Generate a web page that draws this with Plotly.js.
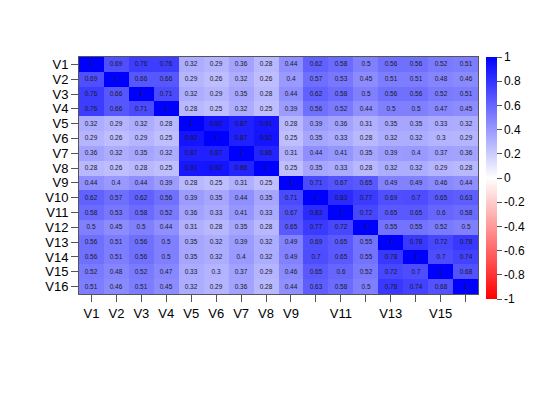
<!DOCTYPE html>
<html><head><meta charset="utf-8">
<script src="https://cdn.plot.ly/plotly-3.0.1.min.js"></script>
<style>body{margin:0;background:#fff}#c{width:540px;height:400px}</style>
</head><body><div id="c"></div>
<script>
const vars = ["V1","V2","V3","V4","V5","V6","V7","V8","V9","V10","V11","V12","V13","V14","V15","V16"];
const xTickText = ["V1","V2","V3","V4","V5","V6","V7","V8","V9","","V11","","V13","","V15",""];
const r1  = [1,.69,.76,.76,.32,.29,.36,.28,.44,.62,.58,.5,.56,.56,.52,.51];
const r2  = [.69,1,.66,.66,.29,.26,.32,.26,.4,.57,.53,.45,.51,.51,.48,.46];
const r3  = [.76,.66,1,.71,.32,.29,.35,.28,.44,.62,.58,.5,.56,.56,.52,.51];
const r4  = [.76,.66,.71,1,.28,.25,.32,.25,.39,.56,.52,.44,.5,.5,.47,.45];
const r5  = [.32,.29,.32,.28,1,.92,.87,.91,.28,.39,.36,.31,.35,.35,.33,.32];
const r6  = [.29,.26,.29,.25,.92,1,.87,.92,.25,.35,.33,.28,.32,.32,.3,.29];
const r7  = [.36,.32,.35,.32,.87,.87,1,.86,.31,.44,.41,.35,.39,.4,.37,.36];
const r8  = [.28,.26,.28,.25,.91,.92,.86,1,.25,.35,.33,.28,.32,.32,.29,.28];
const r9  = [.44,.4,.44,.39,.28,.25,.31,.25,1,.71,.67,.65,.49,.49,.46,.44];
const r10 = [.62,.57,.62,.56,.39,.35,.44,.35,.71,1,.83,.77,.69,.7,.65,.63];
const r11 = [.58,.53,.58,.52,.36,.33,.41,.33,.67,.83,1,.72,.65,.65,.6,.58];
const r12 = [.5,.45,.5,.44,.31,.28,.35,.28,.65,.77,.72,1,.55,.55,.52,.5];
const r13 = [.56,.51,.56,.5,.35,.32,.39,.32,.49,.69,.65,.55,1,.78,.72,.78];
const r14 = [.56,.51,.56,.5,.35,.32,.4,.32,.49,.7,.65,.55,.78,1,.7,.74];
const r15 = [.52,.48,.52,.47,.33,.3,.37,.29,.46,.65,.6,.52,.72,.7,1,.68];
const r16 = [.51,.46,.51,.45,.32,.29,.36,.28,.44,.63,.58,.5,.78,.74,.68,1];
const z = [r1,r2,r3,r4,r5,r6,r7,r8,r9,r10,r11,r12,r13,r14,r15,r16];
const txt = z.map(r => r.map(v => String(v)));

const trace = {
  type: 'heatmap', x: vars, y: vars, z: z,
  text: txt, texttemplate: '%{text}',
  textfont: {family: 'Liberation Sans, Arial, sans-serif', size: 6.5, color: '#1a1a1a'},
  zmin: -1, zmax: 1,
  colorscale: [[0,'#ff0000'],[0.5,'#ffffff'],[1,'#0000ff']],
  hoverinfo: 'skip',
  colorbar: {
    x: 1.02, xanchor: 'left', xref: 'paper',
    y: 1.0, yanchor: 'top',
    lenmode: 'pixels', len: 242, thickness: 11,
    outlinewidth: 0,
    tickvals: [-1,-0.8,-0.6,-0.4,-0.2,0,0.2,0.4,0.6,0.8,1],
    ticktext: ['-1','-0.8','-0.6','-0.4','-0.2','0','0.2','0.4','0.6','0.8','1'],
    ticks: 'outside', ticklen: 5, tickcolor: '#555',
    tickfont: {family: 'Liberation Sans, Arial, sans-serif', size: 12, color: '#000'},
    xpad: 0, ypad: 0
  }
};

const layout = {
  width: 540, height: 400,
  margin: {l: 79, r: 62, t: 57, b: 106},
  paper_bgcolor: '#fff', plot_bgcolor: '#fff',
  font: {family: 'Liberation Sans, Arial, sans-serif', size: 13, color: '#000'},
  xaxis: {
    type: 'category', tickmode: 'array', tickvals: vars, ticktext: xTickText,
    ticks: 'outside', ticklen: 7, tickcolor: '#555',
    showline: true, mirror: true, linecolor: '#555', linewidth: 1,
    showgrid: false, zeroline: false, fixedrange: true,
    tickfont: {size: 13}
  },
  yaxis: {
    type: 'category', autorange: 'reversed',
    tickmode: 'array', tickvals: vars, ticktext: vars,
    ticks: 'outside', ticklen: 7, tickcolor: '#555',
    showline: true, mirror: true, linecolor: '#555', linewidth: 1,
    showgrid: false, zeroline: false, fixedrange: true,
    tickfont: {size: 13}
  }
};
Plotly.newPlot('c', [trace], layout, {displayModeBar: false, staticPlot: true});
</script></body></html>
